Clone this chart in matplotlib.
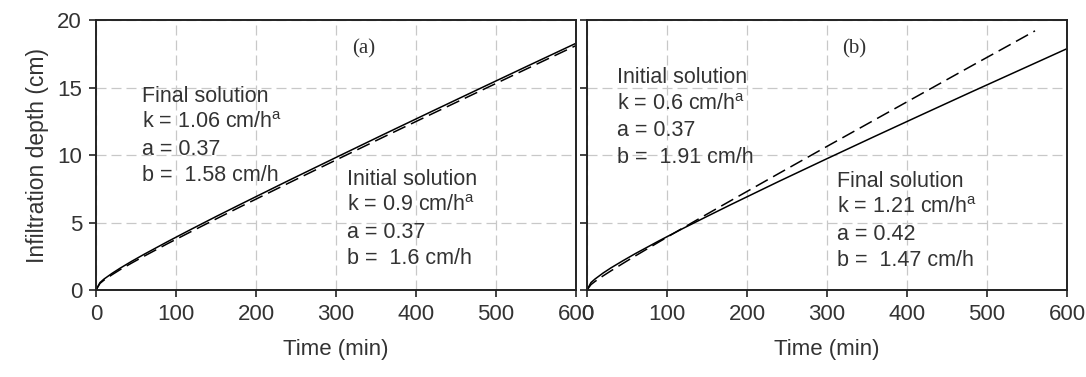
import matplotlib
matplotlib.use('Agg')
import matplotlib.pyplot as plt

plt.rcParams['font.family'] = ['Liberation Sans', 'DejaVu Sans']
plt.rcParams['mathtext.fontset'] = 'custom'
plt.rcParams['mathtext.rm'] = 'Liberation Sans'
plt.rcParams['mathtext.it'] = 'Liberation Sans'

# time (min) and infiltration depth (cm)
time = [0, 5, 10, 20, 30, 45, 60, 90, 120, 150, 180, 240, 300, 360, 420, 480, 540, 600]

a_final = [0, 0.55, 0.81, 1.23, 1.61, 2.14, 2.64, 3.60, 4.53, 5.44, 6.33, 8.09, 9.82,
           11.54, 13.24, 14.93, 16.61, 18.28]
a_initial = [0, 0.49, 0.73, 1.13, 1.50, 2.01, 2.50, 3.45, 4.36, 5.26, 6.15, 7.90, 9.63,
             11.35, 13.05, 14.74, 16.43, 18.11]

b_final = [0, 0.55, 0.81, 1.25, 1.64, 2.17, 2.68, 3.64, 4.56, 5.45, 6.33, 8.05, 9.73,
           11.39, 13.03, 14.66, 16.27, 17.88]
time_b_init = [0, 5, 10, 20, 30, 45, 60, 90, 120, 150, 180, 240, 300, 360, 420, 480, 540, 560]
b_initial = [0, 0.40, 0.63, 1.04, 1.42, 1.97, 2.51, 3.56, 4.60, 5.62, 6.63, 8.64, 10.64,
             12.62, 14.60, 16.58, 18.54, 19.20]

x_ticks = [0, 100, 200, 300, 400, 500, 600]
y_ticks = [0, 5, 10, 15, 20]

a_final_txt = ['Final solution', r'k = 1.06 cm/h$^\mathregular{a}$', 'a = 0.37', 'b =  1.58 cm/h']
a_init_txt = ['Initial solution', r'k = 0.9 cm/h$^\mathregular{a}$', 'a = 0.37', 'b =  1.6 cm/h']
b_init_txt = ['Initial solution', r'k = 0.6 cm/h$^\mathregular{a}$', 'a = 0.37', 'b =  1.91 cm/h']
b_final_txt = ['Final solution', r'k = 1.21 cm/h$^\mathregular{a}$', 'a = 0.42', 'b =  1.47 cm/h']

txt_color = '#333333'

fig = plt.figure(figsize=(10.86, 3.77), dpi=100)
ax1 = fig.add_axes([0.0884, 0.2308, 0.442, 0.716])
ax2 = fig.add_axes([0.5405, 0.2308, 0.442, 0.716])


def block(ax, x, y0, lines):
    for i, s in enumerate(lines):
        ax.text(x, y0 - i * 1.96, s, fontsize=15.5, color=txt_color, va='baseline', ha='left')


for ax in (ax1, ax2):
    ax.set_xlim(0, 600)
    ax.set_ylim(0, 20)
    ax.set_xticks(x_ticks)
    ax.set_yticks(y_ticks)
    ax.grid(True, color='#c8c8c8', linestyle=(0, (8, 4)), linewidth=0.9)
    ax.set_axisbelow(True)
    ax.tick_params(direction='out', length=5, width=1.2, labelsize=16,
                   labelcolor=txt_color, color='#222222', pad=5)
    for sp in ax.spines.values():
        sp.set_linewidth(1.4)
        sp.set_color('#222222')
    ax.set_xlabel('Time (min)', fontsize=16, color=txt_color, labelpad=10)

ax1.plot(time, a_final, color='black', linewidth=1.1)
ax1.plot(time, a_initial, color='black', linewidth=1.1, linestyle=(0, (9, 4)))
ax2.plot(time, b_final, color='black', linewidth=1.1)
ax2.plot(time_b_init, b_initial, color='black', linewidth=1.1, linestyle=(0, (9, 4)))

ax1.set_ylabel('Infiltration depth (cm)', fontsize=16.5, color=txt_color, labelpad=6)
ax2.tick_params(labelleft=False)

ax1.text(335, 17.9, '(a)', fontsize=15, family='Liberation Serif', color=txt_color,
         ha='center', va='center')
ax2.text(334, 17.9, '(b)', fontsize=15, family='Liberation Serif', color=txt_color,
         ha='center', va='center')

block(ax1, 57, 13.95, a_final_txt)
block(ax1, 314, 7.78, a_init_txt)
block(ax2, 37, 15.3, b_init_txt)
block(ax2, 312, 7.65, b_final_txt)

fig.savefig('out.png', dpi=100)
